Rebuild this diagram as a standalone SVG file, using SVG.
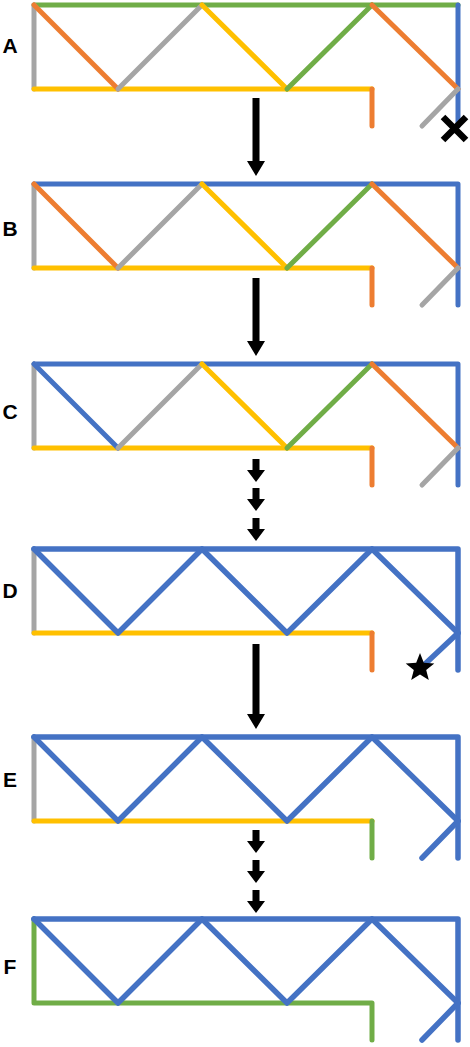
<svg xmlns="http://www.w3.org/2000/svg" width="470" height="1047" viewBox="0 0 470 1047">
<style>
.m{fill:none;stroke-width:5;stroke-linecap:round;stroke-linejoin:round}
.t{stroke-width:5.5}
.g{stroke:#70AD47}.o{stroke:#ED7D31}.y{stroke:#FFC000}.a{stroke:#A5A5A5}.b{stroke:#4472C4}
.lbl{font-family:"Liberation Sans",Arial,sans-serif;font-weight:bold;font-size:21px;fill:#000;text-anchor:middle}
.arr{fill:#000}
</style>
<defs>
<path id="longArrow" d="M-3.5,0 H3.5 V63 H9 L0,78 L-9,63 H-3.5 Z"/>
<path id="shortArrow" d="M-3.5,-23 H3.5 V-12 H9 L0,0 L-9,-12 H-3.5 Z"/>
</defs>
<rect width="470" height="1047" fill="#fff"/>

<g id="panelA" transform="translate(0,5)">
<path class="m g" d="M34,0 H458"/>
<path class="m a" d="M34,0 V84"/>
<path class="m y" d="M34,84 H372"/>
<path class="m b" d="M458,0 V121"/>
<path class="m o" d="M34,0 L118,84"/>
<path class="m a" d="M118,84 L202,0"/>
<path class="m y" d="M202,0 L287,84"/>
<path class="m g" d="M287,84 L372,0"/>
<path class="m o" d="M372,0 L458,84"/>
<path class="m o" d="M372,84 V121"/>
<path class="m a" d="M458,84 L422,121"/>
<text class="lbl" x="10" y="48">A</text>
<path d="M443,112 L466,135 M466,112 L443,135" stroke="#000" stroke-width="6.5" fill="none"/>
</g>

<g id="panelB" transform="translate(0,184)">
<path class="m b" d="M34,0 H458 V121"/>
<path class="m a" d="M34,0 V84"/>
<path class="m y" d="M34,84 H372"/>
<path class="m o" d="M34,0 L118,84"/>
<path class="m a" d="M118,84 L202,0"/>
<path class="m y" d="M202,0 L287,84"/>
<path class="m g" d="M287,84 L372,0"/>
<path class="m o" d="M372,0 L458,84"/>
<path class="m o" d="M372,84 V121"/>
<path class="m a" d="M458,84 L422,121"/>
<text class="lbl" x="10" y="52">B</text>
</g>

<g id="panelC" transform="translate(0,364)">
<path class="m b" d="M34,0 H458 V121"/>
<path class="m a" d="M34,0 V84"/>
<path class="m y" d="M34,84 H372"/>
<path class="m b" d="M34,0 L118,84"/>
<path class="m a" d="M118,84 L202,0"/>
<path class="m y" d="M202,0 L287,84"/>
<path class="m g" d="M287,84 L372,0"/>
<path class="m o" d="M372,0 L458,84"/>
<path class="m o" d="M372,84 V121"/>
<path class="m a" d="M458,84 L422,121"/>
<text class="lbl" x="10" y="55">C</text>
</g>

<g id="panelD" transform="translate(0,549)">
<path class="m t b" d="M34,0 H458 V121"/>
<path class="m a" d="M34,0 V84"/>
<path class="m y" d="M34,84 H372"/>
<path class="m t b" d="M34,0 L118,84 L202,0 L287,84 L372,0 L458,84"/>
<path class="m o" d="M372,84 V121"/>
<path class="m t b" d="M458,84 L425,115"/>
<text class="lbl" x="10" y="49">D</text>
<polygon fill="#000" points="420,104 423.8,113.7 434.3,114.4 426.2,121 428.8,131.1 420,125.5 411.2,131.1 413.8,121 405.7,114.4 416.2,113.7"/>
</g>

<g id="panelE" transform="translate(0,737)">
<path class="m t b" d="M34,0 H458 V121"/>
<path class="m a" d="M34,0 V84"/>
<path class="m y" d="M34,84 H372"/>
<path class="m t b" d="M34,0 L118,84 L202,0 L287,84 L372,0 L458,84"/>
<path class="m g" d="M372,84 V121"/>
<path class="m t b" d="M458,84 L422,121"/>
<text class="lbl" x="10" y="50">E</text>
</g>

<g id="panelF" transform="translate(0,919)">
<path class="m g" d="M34,0 V84 H372 V121"/>
<path class="m t b" d="M34,0 H458 V121"/>
<path class="m t b" d="M34,0 L118,84 L202,0 L287,84 L372,0 L458,84"/>
<path class="m t b" d="M458,84 L422,121"/>
<text class="lbl" x="10" y="55">F</text>
</g>

<g id="connectors" class="arr">
<use href="#longArrow" x="256" y="98"/>
<use href="#longArrow" x="256" y="278"/>
<use href="#shortArrow" x="256" y="482"/>
<use href="#shortArrow" x="256" y="511"/>
<use href="#shortArrow" x="256" y="541"/>
<path d="M252.5,644 H259.5 V714 H265 L256,729 L247,714 H252.5 Z"/>
<use href="#shortArrow" x="256" y="853"/>
<use href="#shortArrow" x="256" y="883"/>
<use href="#shortArrow" x="256" y="913"/>
</g>
</svg>
